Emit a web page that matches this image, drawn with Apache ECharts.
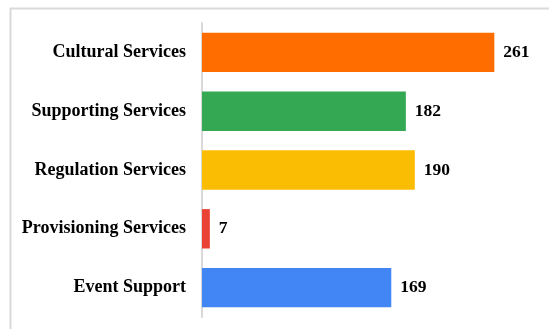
<!DOCTYPE html>
<html>
<head>
<meta charset="utf-8">
<script src="https://cdn.jsdelivr.net/npm/echarts@6/dist/echarts.min.js"></script>
<style>
  html, body { margin: 0; padding: 0; background: #ffffff; }
  #chart { width: 549px; height: 329px; }
</style>
</head>
<body>
<div id="chart"></div>
<script>
// Service categories, listed bottom to top as the category axis draws them
const categories = ['Event Support', 'Provisioning Services', 'Regulation Services', 'Supporting Services', 'Cultural Services'];
const counts = [169, 7, 190, 182, 261];
const barColors = ['#4285F4', '#EA4335', '#FBBC04', '#34A853', '#FF6D01'];

const serif = '"Liberation Serif", "DejaVu Serif", serif';

const chart = echarts.init(document.getElementById('chart'), null, { renderer: 'canvas' });
chart.setOption({
  animation: false,
  backgroundColor: '#ffffff',
  graphic: [{
    type: 'rect',
    left: 8, top: 6,
    shape: { width: 560, height: 340 },
    style: { fill: 'none', stroke: '#d9d9d9', lineWidth: 2 },
    z: -1
  }],
  grid: { left: 202, top: 23, right: 11, bottom: 12, containLabel: false },
  xAxis: {
    type: 'value',
    min: 0, max: 300,
    show: false
  },
  yAxis: {
    type: 'category',
    data: categories,
    axisLine: { show: true, lineStyle: { color: '#d9d9d9', width: 2 } },
    axisTick: { show: false },
    axisLabel: {
      margin: 16,
      color: '#000000',
      fontFamily: serif,
      fontWeight: 'bold',
      fontSize: 18
    }
  },
  series: [{
    type: 'bar',
    data: counts.map((v, i) => ({ value: v, itemStyle: { color: barColors[i] } })),
    barCategoryGap: '33%',
    label: {
      show: true,
      position: 'right',
      distance: 9,
      color: '#000000',
      fontFamily: serif,
      fontWeight: 'bold',
      fontSize: 17.5
    }
  }]
});
</script>
</body>
</html>
